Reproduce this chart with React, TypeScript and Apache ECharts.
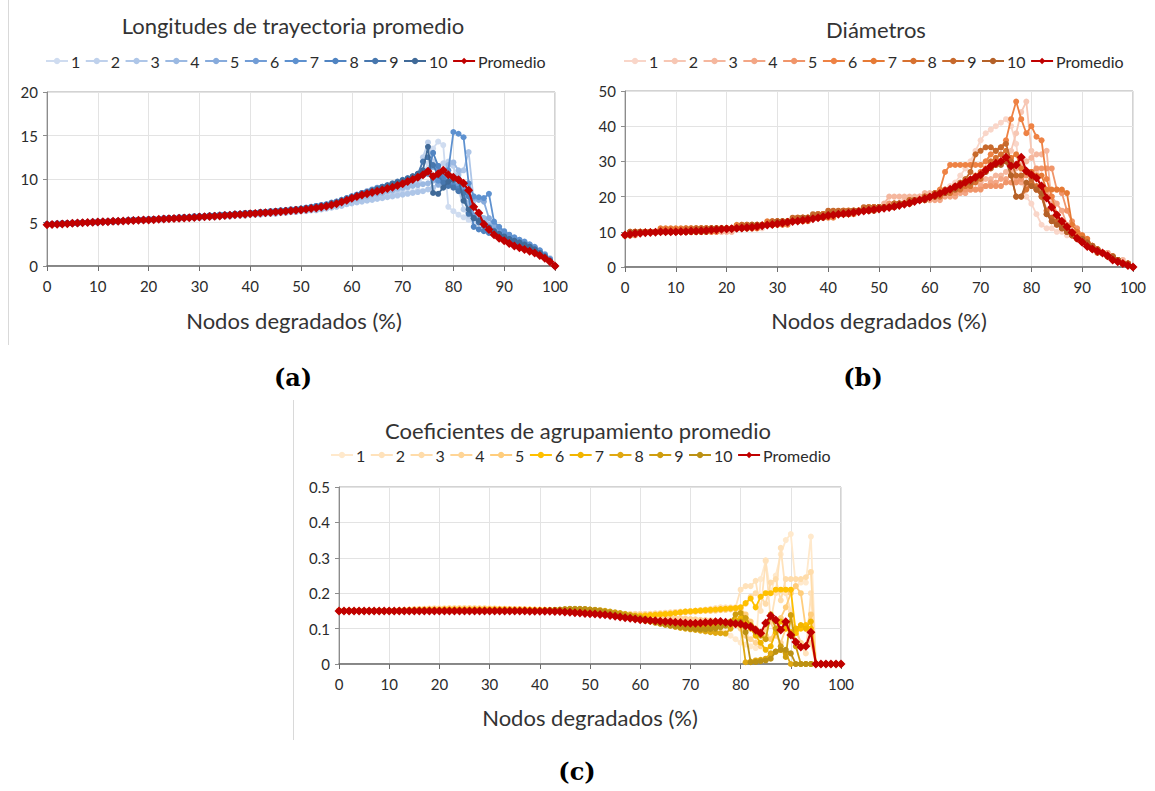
import React, { useEffect, useRef } from "react";
import * as echarts from "echarts";

// x positions: nodes degraded (%)
const X_PCT = [
  0,1,2,3,4,5,6,7,8,9,10,11,12,13,14,15,16,17,18,19,20,21,22,23,24,25,26,27,28,29,
  30,31,32,33,34,35,36,37,38,39,40,41,42,43,44,45,46,47,48,49,50,51,52,53,54,55,56,57,58,59,
  60,61,62,63,64,65,66,67,68,69,70,71,72,73,74,75,76,77,78,79,80,81,82,83,84,85,86,87,88,89,
  90,91,92,93,94,95,96,97,98,99,100,
];

const SERIES_NAMES = ["1","2","3","4","5","6","7","8","9","10","Promedio"];

// ---------- (a) Longitudes de trayectoria promedio ----------
const A1 = [
  4.8,4.8,4.8,4.8,4.9,4.9,4.9,5.0,5.0,5.0,
  5.0,5.1,5.1,5.1,5.2,5.2,5.2,5.2,5.3,5.3,
  5.3,5.3,5.4,5.4,5.4,5.5,5.5,5.5,5.5,5.6,
  5.6,5.6,5.7,5.7,5.7,5.8,5.8,5.8,5.9,5.9,
  5.9,6.0,6.0,6.0,6.1,6.1,6.1,6.2,6.2,6.3,
  6.3,6.4,6.4,6.5,6.6,6.7,6.8,6.9,7.0,7.1,
  7.3,7.4,7.5,7.6,7.7,7.8,7.9,8.0,8.1,8.2,
  8.3,8.4,8.5,8.7,10.5,11.8,13.5,14.3,13.9,6.8,
  6.3,5.9,5.6,5.3,5.0,4.8,4.6,4.4,4.1,3.8,
  3.5,3.3,3.0,2.8,2.6,2.3,2.0,1.7,1.3,0.8,
  0,
];
const A2 = [
  4.8,4.8,4.8,4.9,4.9,4.9,5.0,5.0,5.0,5.0,
  5.1,5.1,5.1,5.2,5.2,5.2,5.2,5.3,5.3,5.3,
  5.3,5.4,5.4,5.4,5.5,5.5,5.5,5.6,5.6,5.6,
  5.7,5.7,5.7,5.8,5.8,5.8,5.9,5.9,5.9,6.0,
  6.0,6.0,6.1,6.1,6.2,6.2,6.2,6.3,6.3,6.4,
  6.4,6.5,6.5,6.6,6.7,6.8,6.9,7.0,7.1,7.3,
  7.4,7.5,7.6,7.8,7.9,8.0,8.1,8.3,8.4,8.6,
  8.8,9.0,9.3,9.8,12.5,14.2,12.0,11.5,11.8,12.0,
  11.5,9.0,6.5,5.8,5.3,5.0,4.7,4.4,4.0,3.7,
  3.4,3.2,3.0,2.8,2.5,2.3,2.0,1.6,1.2,0.7,
  0,
];
const A3 = [
  4.8,4.8,4.8,4.8,4.9,4.9,4.9,4.9,5.0,5.0,
  5.0,5.0,5.1,5.1,5.1,5.1,5.2,5.2,5.2,5.2,
  5.3,5.3,5.3,5.3,5.4,5.4,5.4,5.5,5.5,5.5,
  5.5,5.6,5.6,5.6,5.7,5.7,5.7,5.8,5.8,5.8,
  5.9,5.9,5.9,6.0,6.0,6.0,6.1,6.1,6.2,6.2,
  6.3,6.3,6.4,6.4,6.5,6.6,6.7,6.8,6.9,7.1,
  7.2,7.3,7.4,7.5,7.6,7.7,7.8,7.9,8.0,8.1,
  8.2,8.3,8.4,8.5,8.6,8.8,9.0,9.3,9.6,10.0,
  10.3,10.5,11.0,13.1,7.5,5.6,5.0,4.6,4.2,3.8,
  3.5,3.3,3.1,2.9,2.7,2.4,2.1,1.8,1.4,0.9,
  0,
];
const A4 = [
  4.8,4.8,4.9,4.9,4.9,5.0,5.0,5.0,5.0,5.1,
  5.1,5.1,5.2,5.2,5.2,5.2,5.3,5.3,5.3,5.4,
  5.4,5.4,5.4,5.5,5.5,5.5,5.6,5.6,5.6,5.7,
  5.7,5.7,5.8,5.8,5.8,5.9,5.9,6.0,6.0,6.0,
  6.1,6.1,6.1,6.2,6.2,6.3,6.3,6.3,6.4,6.4,
  6.5,6.5,6.6,6.7,6.8,6.9,7.0,7.1,7.3,7.4,
  7.6,7.7,7.9,8.0,8.2,8.3,8.4,8.6,8.7,8.9,
  9.0,9.1,9.2,9.3,9.4,9.5,9.8,10.2,10.8,11.6,
  11.9,11.0,8.0,7.2,6.8,6.2,5.5,4.8,4.3,4.0,
  3.7,3.4,3.1,2.9,2.6,2.4,2.1,1.7,1.3,0.8,
  0,
];
const A5 = [
  4.8,4.8,4.8,4.9,4.9,4.9,4.9,5.0,5.0,5.0,
  5.0,5.1,5.1,5.1,5.1,5.2,5.2,5.2,5.3,5.3,
  5.3,5.3,5.4,5.4,5.4,5.5,5.5,5.5,5.6,5.6,
  5.6,5.7,5.7,5.8,5.8,5.8,5.9,5.9,6.0,6.0,
  6.0,6.1,6.1,6.2,6.2,6.2,6.3,6.3,6.4,6.5,
  6.5,6.6,6.7,6.8,6.9,7.0,7.1,7.3,7.5,7.7,
  7.9,8.1,8.3,8.5,8.7,8.9,9.0,9.1,9.2,9.3,
  9.4,9.6,9.8,10.1,10.5,10.8,10.0,9.4,9.6,10.2,
  9.3,8.8,8.3,8.0,7.8,7.6,7.4,5.5,4.6,4.1,
  3.8,3.5,3.2,3.0,2.7,2.4,2.1,1.7,1.2,0.7,
  0,
];
const A6 = [
  4.8,4.8,4.8,4.8,4.9,4.9,4.9,5.0,5.0,5.0,
  5.1,5.1,5.1,5.2,5.2,5.2,5.3,5.3,5.3,5.3,
  5.4,5.4,5.4,5.5,5.5,5.5,5.6,5.6,5.6,5.7,
  5.7,5.7,5.8,5.8,5.9,5.9,5.9,6.0,6.0,6.1,
  6.1,6.1,6.2,6.2,6.3,6.3,6.4,6.4,6.5,6.5,
  6.6,6.7,6.8,6.9,7.0,7.1,7.2,7.4,7.6,7.8,
  8.0,8.2,8.4,8.6,8.8,9.0,9.1,9.2,9.4,9.6,
  9.8,10.0,10.2,10.4,10.7,11.0,11.4,11.0,10.4,10.0,
  9.6,9.3,9.0,8.6,5.8,5.3,4.9,4.5,4.1,3.8,
  3.5,3.2,3.0,2.8,2.5,2.2,1.9,1.5,1.1,0.6,
  0,
];
const A7 = [
  4.8,4.8,4.9,4.9,4.9,4.9,5.0,5.0,5.0,5.1,
  5.1,5.1,5.1,5.2,5.2,5.2,5.3,5.3,5.3,5.3,
  5.4,5.4,5.4,5.5,5.5,5.5,5.6,5.6,5.6,5.7,
  5.7,5.7,5.8,5.8,5.8,5.9,5.9,6.0,6.0,6.0,
  6.1,6.1,6.2,6.2,6.2,6.3,6.3,6.4,6.4,6.5,
  6.5,6.6,6.7,6.8,6.9,7.0,7.2,7.3,7.5,7.7,
  7.9,8.1,8.3,8.5,8.7,8.9,9.1,9.2,9.3,9.5,
  9.6,9.8,10.0,10.2,10.4,10.6,10.2,9.8,10.5,11.0,
  15.4,15.2,14.8,9.5,8.0,7.9,7.8,8.3,5.1,4.5,
  4.0,3.6,3.3,3.0,2.8,2.5,2.2,1.8,1.3,0.8,
  0,
];
const A8 = [
  4.8,4.8,4.8,4.9,4.9,4.9,5.0,5.0,5.0,5.0,
  5.1,5.1,5.1,5.1,5.2,5.2,5.2,5.3,5.3,5.3,
  5.4,5.4,5.4,5.4,5.5,5.5,5.5,5.6,5.6,5.7,
  5.7,5.7,5.8,5.8,5.9,5.9,5.9,6.0,6.0,6.1,
  6.1,6.1,6.2,6.2,6.3,6.3,6.4,6.4,6.5,6.5,
  6.6,6.7,6.8,6.9,7.0,7.1,7.3,7.4,7.6,7.8,
  8.0,8.2,8.4,8.5,8.7,8.8,9.0,9.2,9.4,9.6,
  9.8,10.0,10.2,10.4,10.6,10.8,13.0,11.5,10.0,9.5,
  9.2,8.9,8.5,8.0,4.5,4.2,4.0,3.8,3.6,3.4,
  3.2,3.0,2.8,2.6,2.4,2.2,1.9,1.5,1.1,0.6,
  0,
];
const A9 = [
  4.8,4.8,4.8,4.8,4.9,4.9,4.9,5.0,5.0,5.0,
  5.0,5.1,5.1,5.1,5.2,5.2,5.2,5.2,5.3,5.3,
  5.3,5.4,5.4,5.4,5.5,5.5,5.5,5.6,5.6,5.6,
  5.7,5.7,5.7,5.8,5.8,5.9,5.9,5.9,6.0,6.0,
  6.1,6.1,6.1,6.2,6.2,6.3,6.3,6.4,6.4,6.5,
  6.5,6.6,6.7,6.8,6.9,7.0,7.1,7.3,7.5,7.7,
  7.9,8.1,8.3,8.5,8.7,8.9,9.1,9.3,9.5,9.7,
  9.9,10.1,10.3,10.6,12.0,12.5,11.6,10.4,9.6,9.2,
  9.0,8.6,8.4,6.0,5.5,5.0,4.6,4.2,3.9,3.6,
  3.3,3.1,2.9,2.7,2.5,2.2,1.9,1.5,1.1,0.6,
  0,
];
const A10 = [
  4.8,4.8,4.8,4.9,4.9,4.9,4.9,5.0,5.0,5.0,
  5.0,5.1,5.1,5.1,5.2,5.2,5.2,5.3,5.3,5.3,
  5.3,5.4,5.4,5.4,5.5,5.5,5.5,5.6,5.6,5.6,
  5.7,5.7,5.8,5.8,5.8,5.9,5.9,6.0,6.0,6.0,
  6.1,6.1,6.2,6.2,6.2,6.3,6.3,6.4,6.4,6.5,
  6.6,6.6,6.7,6.8,6.9,7.0,7.2,7.3,7.5,7.7,
  7.9,8.1,8.3,8.4,8.6,8.8,9.0,9.2,9.4,9.6,
  9.8,10.0,10.3,10.6,11.0,13.7,8.4,8.3,9.0,9.7,
  9.9,10.0,7.5,6.5,5.5,5.2,4.8,4.4,4.0,3.7,
  3.4,3.1,2.9,2.7,2.4,2.2,1.9,1.5,1.1,0.6,
  0,
];
const AP = [
  4.75,4.78,4.81,4.84,4.87,4.90,4.93,4.96,4.99,5.02,
  5.05,5.08,5.10,5.13,5.15,5.18,5.20,5.23,5.25,5.28,
  5.30,5.33,5.36,5.39,5.42,5.45,5.48,5.51,5.55,5.58,
  5.62,5.65,5.69,5.73,5.76,5.80,5.84,5.88,5.92,5.96,
  6.00,6.04,6.08,6.12,6.16,6.20,6.25,6.30,6.35,6.40,
  6.45,6.52,6.60,6.68,6.78,6.88,7.00,7.15,7.35,7.55,
  7.80,8.00,8.15,8.30,8.45,8.60,8.75,8.90,9.05,9.25,
  9.45,9.70,9.95,10.2,10.5,10.9,10.3,10.6,11.0,10.5,
  10.2,9.9,9.5,8.7,6.8,6.1,4.8,4.2,3.6,3.2,
  2.9,2.6,2.3,2.1,1.9,1.7,1.5,1.2,0.9,0.5,
  0,
];

// ---------- (b) Diámetros ----------
const B1 = [
  9,9,10,10,10,10,10,10,10,10,
  10,10,10,10,10,10,10,10,10,10,
  10,10,11,11,11,11,11,11,12,12,
  12,12,12,13,13,13,13,14,14,14,
  14,15,15,15,15,15,16,16,16,16,
  17,17,17,18,18,18,19,19,19,20,
  20,21,21,22,23,24,26,28,30,33,
  36,38,39,40,41,42,40,35,25,20,
  18,15,12,11,11,10,10,9,9,8,
  7,6,5,5,4,3,3,2,1,1,
  0,
];
const B2 = [
  9,10,10,10,10,10,10,10,10,10,
  10,10,10,10,10,10,10,11,11,11,
  11,11,11,11,11,12,12,12,12,12,
  12,13,13,13,13,14,14,14,14,15,
  15,15,15,15,16,16,16,16,17,17,
  17,17,18,18,18,19,19,19,20,20,
  20,20,21,21,22,22,23,23,24,25,
  26,27,28,29,30,31,33,38,44,47,
  33,27,22,16,14,12,11,10,9,8,
  7,6,5,5,4,3,3,2,1,1,
  0,
];
const B3 = [
  9,10,10,10,10,10,10,10,10,10,
  10,10,10,10,10,10,10,10,10,10,
  10,10,11,11,11,11,11,12,12,12,
  12,12,13,13,13,13,14,14,14,14,
  15,15,15,15,15,16,16,16,17,17,
  17,18,20,20,20,20,20,20,20,21,
  21,21,21,22,22,22,23,23,24,24,
  24,25,25,26,26,27,27,28,29,30,
  31,32,32,33,18,13,11,10,9,8,
  7,6,5,5,4,4,3,2,2,1,
  0,
];
const B4 = [
  9,9,10,10,10,10,10,10,10,10,
  10,10,10,10,10,10,11,11,11,11,
  11,11,11,11,11,11,12,12,12,12,
  12,13,13,13,13,13,14,14,14,15,
  15,15,15,15,16,16,16,16,16,17,
  17,17,17,17,18,18,18,19,19,19,
  19,19,19,20,20,20,21,21,22,22,
  23,23,24,24,25,25,26,25,24,23,
  23,22,22,21,20,18,16,12,10,9,
  8,7,6,5,4,4,3,2,1,1,
  0,
];
const B5 = [
  9,9,9,10,10,10,10,10,10,10,
  10,10,10,10,10,11,11,11,11,11,
  11,11,11,12,12,12,12,12,12,13,
  13,13,13,13,14,14,14,14,15,15,
  15,15,15,16,16,16,16,16,16,17,
  17,17,18,18,18,18,19,19,19,19,
  20,20,20,21,21,21,22,22,22,22,
  22,23,23,23,23,24,24,24,25,26,
  27,28,28,28,28,22,21,16,13,11,
  9,7,6,5,4,3,3,2,1,1,
  0,
];
const B6 = [
  9,10,10,10,10,10,10,10,10,10,
  10,10,10,10,10,10,10,10,10,11,
  11,11,11,11,11,11,11,12,12,12,
  12,12,12,13,13,13,13,14,14,14,
  14,14,15,15,15,15,16,16,16,16,
  17,17,17,17,18,18,18,19,19,20,
  20,21,22,27,29,29,29,29,29,29,
  29,30,32,33,34,36,42,47,42,38,
  40,37,36,25,20,15,12,11,10,9,
  8,7,6,5,4,3,3,2,1,1,
  0,
];
const B7 = [
  9,10,10,10,10,10,10,11,11,11,
  11,11,11,11,11,11,11,11,11,11,
  11,11,12,12,12,12,12,12,13,13,
  13,13,13,13,14,14,14,14,15,15,
  15,15,15,16,16,16,16,16,17,17,
  17,17,17,18,18,18,19,19,19,20,
  20,20,21,21,22,23,23,24,25,26,
  27,28,29,29,30,30,31,32,28,27,
  27,26,26,22,22,22,22,21,12,10,
  9,8,6,5,4,3,3,2,1,1,
  0,
];
const B8 = [
  9,9,10,10,10,10,10,10,10,10,
  10,10,11,11,11,11,11,11,11,11,
  11,11,11,11,12,12,12,12,12,12,
  13,13,13,13,13,14,14,14,14,15,
  15,15,15,15,15,16,16,16,16,17,
  17,17,17,18,18,18,18,19,19,19,
  20,20,20,21,21,22,22,23,23,24,
  25,27,30,31,32,33,26,20,20,22,
  24,23,20,16,13,12,11,10,9,8,
  7,6,5,5,4,3,3,2,1,1,
  0,
];
const B9 = [
  9,9,10,10,10,10,10,10,10,10,
  10,10,10,10,11,11,11,11,11,11,
  11,11,11,12,12,12,12,12,12,13,
  13,13,13,14,14,14,14,15,15,15,
  16,16,16,16,16,16,16,17,17,17,
  17,17,17,18,18,18,19,19,19,20,
  20,21,21,22,22,23,24,25,27,32,
  33,34,34,33,34,35,30,26,26,27,
  25,22,20,15,14,13,12,10,9,8,
  7,6,5,4,4,3,2,2,1,1,
  0,
];
const B10 = [
  9,10,10,10,10,10,10,10,10,10,
  10,10,10,10,10,10,10,11,11,11,
  11,11,11,11,11,12,12,12,12,12,
  13,13,13,13,13,14,14,14,14,14,
  15,15,15,15,15,16,16,16,16,16,
  17,17,17,17,18,18,18,19,19,19,
  20,20,21,21,22,22,23,24,24,25,
  26,27,28,29,29,30,26,20,20,24,
  23,22,21,15,13,12,11,10,9,8,
  8,7,6,5,4,3,3,2,1,1,
  0,
];
const BP = [
  9.1,9.3,9.5,9.6,9.7,9.8,9.9,10.0,10.0,10.0,
  10.0,10.1,10.1,10.2,10.2,10.3,10.4,10.5,10.6,10.7,
  10.8,10.9,11.0,11.1,11.2,11.3,11.5,11.7,11.9,12.1,
  12.3,12.5,12.7,12.9,13.1,13.3,13.5,13.7,14.0,14.3,
  14.6,14.8,15.0,15.1,15.3,15.5,15.7,15.9,16.1,16.3,
  16.5,16.7,16.9,17.2,17.5,17.8,18.2,18.6,19.0,19.4,
  19.9,20.4,20.9,21.5,22.1,22.8,23.4,24.1,24.8,25.5,
  26.2,27.5,28.6,29.5,30.0,31.2,28.7,29.0,31.2,27.3,
  26.2,25.3,23.0,19.6,17.0,14.8,13.0,11.4,9.8,8.2,
  7.0,5.8,5.1,4.5,4.0,3.2,2.0,1.5,1.0,0.4,
  0,
];

// ---------- (c) Coeficientes de agrupamiento promedio ----------
const C1 = [
  .15,.15,.15,.15,.15,.15,.15,.15,.15,.15,
  .15,.15,.152,.153,.154,.155,.156,.156,.157,.157,
  .157,.157,.158,.158,.158,.158,.158,.158,.157,.157,
  .157,.156,.156,.156,.155,.155,.155,.154,.154,.153,
  .153,.152,.152,.151,.15,.15,.149,.148,.147,.146,
  .145,.144,.143,.142,.141,.14,.139,.138,.137,.136,
  .135,.134,.133,.132,.131,.13,.13,.129,.128,.127,
  .126,.124,.12,.116,.11,.104,.098,.09,.08,.07,
  .06,.055,.05,.045,.24,.29,.2,.25,.31,.35,
  .367,.22,.23,.23,.36,0,0,0,0,0,
  0,
];
const C2 = [
  .15,.15,.15,.15,.15,.15,.15,.15,.15,.15,
  .15,.151,.152,.153,.154,.155,.155,.156,.156,.157,
  .157,.157,.157,.157,.158,.158,.158,.157,.157,.157,
  .157,.157,.156,.156,.156,.155,.155,.155,.154,.154,
  .153,.153,.152,.152,.151,.15,.15,.149,.148,.147,
  .146,.145,.145,.144,.144,.143,.143,.142,.142,.142,
  .142,.142,.142,.142,.142,.143,.144,.145,.146,.147,
  .148,.15,.152,.154,.156,.158,.16,.16,.16,.16,
  .21,.22,.22,.235,.15,.293,.12,.2,.328,.2,
  .15,.1,.05,.03,.2,0,0,0,0,0,
  0,
];
const C3 = [
  .15,.15,.15,.15,.15,.15,.15,.15,.15,.15,
  .15,.15,.151,.152,.153,.154,.155,.155,.156,.156,
  .156,.156,.157,.157,.157,.157,.157,.157,.157,.157,
  .156,.156,.156,.156,.155,.155,.155,.155,.154,.154,
  .154,.153,.153,.152,.152,.151,.151,.15,.15,.149,
  .148,.147,.146,.145,.144,.143,.142,.142,.141,.141,
  .141,.141,.142,.143,.144,.145,.146,.147,.148,.149,
  .15,.151,.152,.153,.154,.155,.156,.157,.158,.159,
  .16,.17,.19,.2,.19,.17,.23,.24,.18,.24,
  .24,.24,.24,.245,.26,0,0,0,0,0,
  0,
];
const C4 = [
  .15,.15,.15,.15,.15,.15,.15,.15,.15,.15,
  .15,.15,.151,.152,.152,.153,.154,.154,.155,.155,
  .155,.156,.156,.156,.156,.156,.156,.156,.156,.156,
  .156,.156,.155,.155,.155,.155,.155,.154,.154,.154,
  .153,.153,.153,.152,.152,.151,.151,.15,.149,.148,
  .147,.146,.145,.144,.143,.142,.141,.14,.139,.138,
  .137,.136,.135,.134,.133,.132,.131,.13,.129,.128,
  .127,.126,.125,.124,.123,.122,.12,.118,.115,.11,
  .1,.08,.07,.06,.05,.1,.12,.08,.06,.1,
  .12,.1,.06,.05,.06,0,0,0,0,0,
  0,
];
const C5 = [
  .15,.15,.15,.15,.15,.15,.15,.15,.15,.15,
  .15,.15,.151,.151,.152,.152,.153,.153,.154,.154,
  .154,.155,.155,.155,.155,.155,.155,.155,.155,.155,
  .155,.155,.155,.155,.155,.154,.154,.154,.154,.153,
  .153,.153,.152,.152,.151,.151,.15,.15,.149,.148,
  .147,.146,.145,.144,.143,.142,.141,.14,.139,.138,
  .138,.138,.139,.14,.141,.142,.143,.144,.145,.146,
  .147,.148,.149,.15,.15,.151,.152,.153,.154,.155,
  .156,.14,.12,.1,.09,.08,.07,.1,.13,.16,
  .2,.22,.2,.1,.14,0,0,0,0,0,
  0,
];
const C6 = [
  .15,.15,.15,.15,.15,.15,.15,.15,.15,.15,
  .15,.15,.151,.151,.152,.152,.152,.153,.153,.153,
  .153,.154,.154,.154,.154,.154,.154,.154,.154,.154,
  .154,.154,.154,.154,.153,.153,.153,.153,.153,.152,
  .152,.152,.151,.151,.15,.15,.149,.148,.147,.146,
  .145,.144,.143,.142,.141,.14,.139,.138,.137,.136,
  .136,.137,.138,.139,.14,.141,.142,.144,.146,.148,
  .149,.15,.151,.152,.153,.154,.155,.156,.157,.158,
  .16,.172,.185,.16,.19,.2,.2,.21,.21,.21,
  .21,.087,.1,.11,.1,0,0,0,0,0,
  0,
];
const C7 = [
  .15,.15,.15,.15,.15,.15,.15,.15,.15,.15,
  .15,.15,.15,.151,.151,.151,.152,.152,.152,.152,
  .152,.152,.152,.152,.152,.152,.152,.152,.152,.152,
  .152,.152,.152,.152,.152,.151,.151,.151,.151,.151,
  .15,.15,.15,.149,.149,.148,.147,.146,.145,.144,
  .143,.142,.141,.14,.138,.136,.134,.132,.13,.128,
  .126,.124,.122,.12,.118,.116,.114,.112,.11,.108,
  .106,.105,.105,.106,.108,.11,.113,.116,.12,.125,
  .13,.12,.1,.08,.06,.04,.05,.09,.12,.1,
  .09,.1,.11,.1,.12,0,0,0,0,0,
  0,
];
const C8 = [
  .15,.15,.15,.15,.15,.15,.15,.15,.15,.15,
  .15,.15,.15,.15,.15,.151,.151,.151,.151,.151,
  .151,.151,.151,.151,.151,.151,.151,.151,.151,.151,
  .151,.151,.151,.151,.151,.151,.15,.15,.15,.15,
  .15,.15,.15,.149,.149,.148,.148,.147,.146,.145,
  .144,.143,.141,.139,.137,.135,.133,.131,.129,.127,
  .125,.122,.12,.117,.114,.111,.108,.105,.102,.1,
  .098,.096,.094,.092,.09,.088,.087,.086,.1,.12,
  .11,.005,.007,.01,.012,.015,.03,.035,.04,.03,
  0,0,0,0,0,0,0,0,0,0,
  0,
];
const C9 = [
  .15,.15,.15,.15,.15,.15,.15,.15,.15,.15,
  .15,.15,.15,.15,.15,.15,.15,.15,.15,.15,
  .15,.15,.15,.15,.15,.15,.15,.15,.15,.15,
  .15,.15,.15,.15,.15,.15,.15,.15,.15,.15,
  .15,.15,.151,.152,.153,.154,.155,.155,.155,.155,
  .154,.153,.152,.15,.148,.146,.144,.141,.138,.135,
  .132,.128,.124,.12,.117,.114,.112,.11,.108,.106,
  .104,.103,.103,.104,.106,.109,.112,.116,.12,.14,
  .144,.13,.11,.09,.08,.07,.14,.1,.05,.02,
  .138,.05,0,0,0,0,0,0,0,0,
  0,
];
const C10 = [
  .15,.15,.15,.15,.15,.15,.15,.15,.15,.15,
  .15,.15,.15,.15,.15,.15,.15,.15,.15,.15,
  .15,.15,.15,.15,.15,.15,.15,.15,.15,.15,
  .15,.15,.15,.15,.15,.15,.15,.15,.15,.15,
  .15,.151,.152,.153,.154,.155,.156,.156,.156,.155,
  .154,.152,.15,.147,.144,.141,.138,.135,.132,.129,
  .126,.123,.12,.117,.114,.111,.108,.106,.104,.102,
  .1,.099,.098,.098,.099,.1,.104,.108,.113,.118,
  .12,.09,.005,.006,.008,.01,.015,.035,.04,.04,
  .03,0,0,0,0,0,0,0,0,0,
  0,
];
const CP = [
  .15,.15,.15,.15,.15,.15,.15,.15,.15,.15,
  .15,.15,.15,.15,.15,.15,.15,.15,.15,.15,
  .15,.15,.15,.15,.15,.15,.15,.15,.15,.15,
  .15,.15,.15,.15,.15,.15,.15,.15,.149,.149,
  .149,.149,.149,.148,.148,.147,.146,.145,.144,.143,
  .142,.141,.14,.139,.137,.135,.133,.131,.129,.127,
  .125,.124,.123,.122,.121,.12,.119,.118,.117,.116,
  .115,.115,.116,.117,.118,.119,.12,.118,.116,.114,
  .113,.108,.105,.096,.087,.116,.136,.124,.096,.119,
  .082,.062,.048,.05,.09,0,0,0,0,0,
  0,
];

const COLORS_A = ["#cfdcf0","#bfd1ec","#aec6e8","#9bb9e2","#87abdc","#729dd6","#5e91cf","#5084c2","#4777ae","#406a98","#c00000"];
const COLORS_B = ["#f9d6c9","#f7c7b4","#f5b79e","#f3a685","#f0956a","#ee8244","#e67a35","#d77130","#c7692c","#b46128","#c00000"];
const COLORS_C = ["#ffe9cc","#ffe2bb","#ffdcaa","#ffd596","#ffcd7c","#ffc000","#f2b500","#e0a812","#cf9d0e","#bc9114","#c00000"];

const Y_TICKS_A = { min: 0, max: 20, interval: 5 };
const Y_TICKS_B = { min: 0, max: 50, interval: 10 };
const Y_TICKS_C = { min: 0, max: 0.5, interval: 0.1 };

const FONT = "Lato, 'Open Sans', sans-serif";

export default function App() {
  const ref = useRef<HTMLDivElement>(null);
  useEffect(() => {
    document.body.style.margin = "0";
    if (!ref.current) return;
    const chart = echarts.init(ref.current, null, { renderer: "svg" });

    const panels = [
      { key: "a", data: [A1,A2,A3,A4,A5,A6,A7,A8,A9,A10,AP], colors: COLORS_A, y: Y_TICKS_A,
        grid: { left: 47, top: 92, width: 508, height: 174 } },
      { key: "b", data: [B1,B2,B3,B4,B5,B6,B7,B8,B9,B10,BP], colors: COLORS_B, y: Y_TICKS_B,
        grid: { left: 625, top: 91, width: 508, height: 176 } },
      { key: "c", data: [C1,C2,C3,C4,C5,C6,C7,C8,C9,C10,CP], colors: COLORS_C, y: Y_TICKS_C,
        grid: { left: 339, top: 487, width: 502, height: 177 } },
    ];

    const grids: any[] = [];
    const xAxes: any[] = [];
    const yAxes: any[] = [];
    const series: any[] = [];
    const legends: any[] = [];
    const legendPos = [
      { left: 40, top: 48 },
      { left: 618, top: 48 },
      { left: 325, top: 442 },
    ];

    panels.forEach((p, gi) => {
      grids.push({ ...p.grid, show: true, borderColor: "#a6a6a6", borderWidth: 1, backgroundColor: "transparent" });
      xAxes.push({
        type: "value", gridIndex: gi, min: 0, max: 100, interval: 10,
        axisLine: { show: true, lineStyle: { color: "#6e6e6e", width: 1.5 } },
        axisTick: { show: true, length: 5, lineStyle: { color: "#6e6e6e" } },
        axisLabel: { color: "#2b2b2b", fontSize: 15, fontFamily: FONT, margin: 12 },
        splitLine: { show: true, lineStyle: { color: "#e3e3e3", width: 1 } },
      });
      yAxes.push({
        type: "value", gridIndex: gi, min: p.y.min, max: p.y.max, interval: p.y.interval,
        axisLine: { show: true, lineStyle: { color: "#8c8c8c", width: 1 } },
        axisTick: { show: true, length: 4, lineStyle: { color: "#8c8c8c" } },
        axisLabel: { color: "#2b2b2b", fontSize: 15, fontFamily: FONT, margin: 9 },
        splitLine: { show: true, lineStyle: { color: "#e3e3e3", width: 1 } },
      });
      const names: string[] = [];
      p.data.forEach((arr, si) => {
        const isAvg = si === 10;
        const name = p.key + "|" + SERIES_NAMES[si];
        names.push(name);
        series.push({
          type: "line", name, xAxisIndex: gi, yAxisIndex: gi,
          data: arr.map((v, i) => [X_PCT[i], v]),
          symbol: isAvg ? "diamond" : "circle",
          symbolSize: isAvg ? 9 : 6,
          showSymbol: true,
          lineStyle: { width: isAvg ? 2.2 : 1.8, color: p.colors[si] },
          itemStyle: { color: p.colors[si] },
          silent: true,
          z: 2 + si,
        });
      });
      legends.push({
        data: names, ...legendPos[gi], orient: "horizontal",
        itemWidth: 22, itemHeight: 8, itemGap: 4.5,
        formatter: (n: string) => n.split("|")[1],
        textStyle: { fontSize: 16, color: "#2b2b2b", fontFamily: FONT, padding: [0, 0, 0, -2] },
        selectedMode: false,
      });
    });

    const txt = (text: string, x: number, y: number, font: string, fill = "#333") => ({
      type: "text", x, y, silent: true,
      style: { text, font, fill, align: "center", verticalAlign: "middle", textAlign: "center", textVerticalAlign: "middle" },
    });

    const option: any = {
      animation: false,
      grid: grids, xAxis: xAxes, yAxis: yAxes, series, legend: legends,
      graphic: [
        { type: "line", silent: true, shape: { x1: 8.5, y1: 0, x2: 8.5, y2: 345 }, style: { stroke: "#d9d9d9", lineWidth: 1 } },
        { type: "line", silent: true, shape: { x1: 293.5, y1: 400, x2: 293.5, y2: 740 }, style: { stroke: "#d9d9d9", lineWidth: 1 } },
        txt("Longitudes de trayectoria promedio", 293, 25, `22px ${FONT}`),
        txt("Diámetros", 876, 29, `22px ${FONT}`),
        txt("Coeficientes de agrupamiento promedio", 578, 430, `22px ${FONT}`),
        txt("Nodos degradados (%)", 294, 320, `22px ${FONT}`),
        txt("Nodos degradados (%)", 879, 320, `22px ${FONT}`),
        txt("Nodos degradados (%)", 590, 717, `22px ${FONT}`),
        txt("(a)", 293, 377, `bold 24px 'DejaVu Serif', serif`, "#000"),
        txt("(b)", 863, 377, `bold 24px 'DejaVu Serif', serif`, "#000"),
        txt("(c)", 577, 771, `bold 24px 'DejaVu Serif', serif`, "#000"),
      ],
    };
    chart.setOption(option);
    return () => chart.dispose();
  }, []);
  return <div ref={ref} style={{ width: 1155, height: 791 }} />;
}
